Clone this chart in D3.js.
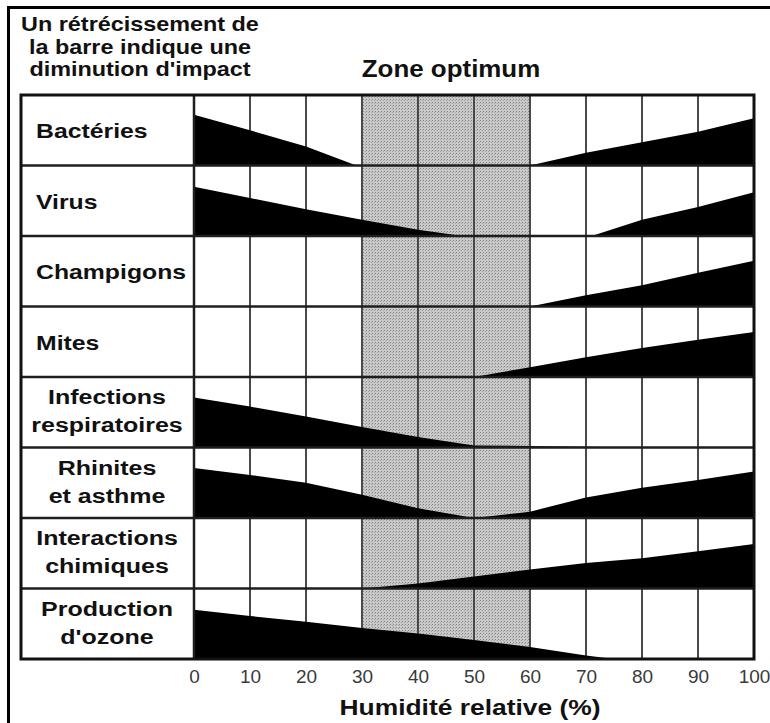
<!DOCTYPE html>
<html>
<head>
<meta charset="utf-8">
<script src="https://cdn.jsdelivr.net/npm/d3@7"></script>
<style>
  body { margin: 0; background: #fff; }
  svg { display: block; font-family: "Liberation Sans", Arial, sans-serif; }
</style>
</head>
<body>
<div class="container"></div>
<script>
const width = 770, height = 723;

// rows of the table (line breaks with \n)
const categories = [
  "Bactéries",
  "Virus",
  "Champigons",
  "Mites",
  "Infections\nrespiratoires",
  "Rhinites\net asthme",
  "Interactions\nchimiques",
  "Production\nd'ozone"
];

// impact bands: [humidité %, impact in % of the row height]
const bacteries = [
  [[0, 72], [10, 50], [20, 27], [29, 0]],
  [[60, 0], [70, 18], [80, 33], [90, 48], [100, 67]]
];
const virus = [
  [[0, 70], [10, 54], [20, 38], [30, 23], [40, 9], [48, 0]],
  [[71, 0], [80, 23], [90, 41], [100, 62]]
];
const champignons = [
  [[60, 0], [70, 16], [80, 30], [90, 48], [100, 65]]
];
const mites = [
  [[50, 0], [60, 14], [70, 28], [80, 41], [90, 53], [100, 64]]
];
const infections = [
  [[0, 71], [10, 58], [20, 44], [30, 29], [40, 15], [50, 3], [80, 0]]
];
const rhinites = [
  [[0, 71], [10, 61], [20, 50], [30, 33], [40, 14], [50, 0]],
  [[50, 0], [60, 9], [70, 29], [80, 43], [90, 54], [100, 66]]
];
const interactions = [
  [[30, 0], [40, 7], [50, 17], [60, 27], [70, 36], [80, 43], [90, 53], [100, 63]]
];
const ozone = [
  [[0, 70], [10, 61], [20, 53], [30, 44], [40, 36], [50, 27], [60, 17], [70, 5], [75, 0]]
];
const bands = [bacteries, virus, champignons, mites, infections, rhinites, interactions, ozone];

const humidityTicks = [0, 10, 20, 30, 40, 50, 60, 70, 80, 90, 100];
const optimumZone = [30, 60];

const noteLines = ["Un rétrécissement de", "la barre indique une", "diminution d'impact"];
const zoneTitle = "Zone optimum";
const axisTitle = "Humidité relative (%)";

const tableLeft = 21;

const svg = d3.select(".container")
  .append("svg")
  .attr("width", width)
  .attr("height", height);

svg.append("rect").attr("width", width).attr("height", height).attr("fill", "#fff");

const x = d3.scaleLinear().domain([0, 100]).range([194, 754]);
const row = d3.scaleBand().domain(categories).range([95, 659]);
const impact = d3.scaleLinear().domain([0, 100]).range([0, row.bandwidth()]);

// dotted grey of the optimum zone
const pat = svg.append("defs").append("pattern")
  .attr("id", "dots")
  .attr("patternUnits", "userSpaceOnUse")
  .attr("width", 3).attr("height", 3);
pat.append("rect").attr("width", 3).attr("height", 3).attr("fill", "#c9c9c9");
pat.append("rect").attr("width", 1).attr("height", 1).attr("fill", "#828282");
pat.append("rect").attr("x", 2).attr("y", 1).attr("width", 1).attr("height", 1).attr("fill", "#a2a2a2");

// stretched text helper (the original lettering is wide)
function label(g, tx, ty, str, size, sx, anchor, weight) {
  return g.append("text")
    .attr("transform", `translate(${tx},${ty}) scale(${sx},1)`)
    .attr("text-anchor", anchor)
    .attr("font-size", size)
    .attr("font-weight", weight || "bold")
    .attr("fill", "#111")
    .text(str);
}

// outer frame (left and top only, the rest is cut)
svg.append("path")
  .attr("d", `M8.5,${height} V7.5 H${width}`)
  .attr("fill", "none")
  .attr("stroke", "#000")
  .attr("stroke-width", 3);

// note top left
noteLines.forEach((t, i) => label(svg, 140, 31 + i * 22.5, t, 19.5, 1.2, "middle"));

label(svg, 451, 77, zoneTitle, 24, 1.08, "middle");

// optimum zone
svg.append("rect")
  .attr("x", x(optimumZone[0]))
  .attr("y", row.range()[0])
  .attr("width", x(optimumZone[1]) - x(optimumZone[0]))
  .attr("height", row.range()[1] - row.range()[0])
  .attr("fill", "url(#dots)");

// vertical grid
svg.append("g")
  .selectAll("line")
  .data(humidityTicks)
  .join("line")
  .attr("x1", d => x(d)).attr("x2", d => x(d))
  .attr("y1", row.range()[0]).attr("y2", row.range()[1])
  .attr("stroke", d => (d > optimumZone[0] && d < optimumZone[1]) ? "#222" : "#4a4a4a")
  .attr("stroke-width", d => (d > optimumZone[0] && d < optimumZone[1]) ? 1.5 : 2);

// black impact bars
const area = d3.area()
  .x(d => x(d[0]))
  .y0(0)
  .y1(d => -impact(d[1]));

svg.append("g")
  .selectAll("g")
  .data(categories)
  .join("g")
  .attr("transform", d => `translate(0,${row(d) + row.bandwidth()})`)
  .selectAll("path")
  .data((d, i) => bands[i])
  .join("path")
  .attr("d", area)
  .attr("fill", "#000");

// row separators
svg.append("g")
  .selectAll("line")
  .data(categories.slice(1))
  .join("line")
  .attr("x1", tableLeft).attr("x2", x(100))
  .attr("y1", d => row(d)).attr("y2", d => row(d))
  .attr("stroke", "#1e1e1e")
  .attr("stroke-width", 2.5);

// label column border + table border
svg.append("line")
  .attr("x1", x(0)).attr("x2", x(0))
  .attr("y1", row.range()[0]).attr("y2", row.range()[1])
  .attr("stroke", "#1e1e1e").attr("stroke-width", 2.5);

svg.append("rect")
  .attr("x", tableLeft)
  .attr("y", row.range()[0])
  .attr("width", x(100) - tableLeft)
  .attr("height", row.range()[1] - row.range()[0])
  .attr("fill", "none")
  .attr("stroke", "#111")
  .attr("stroke-width", 3);

// row labels
const labels = svg.append("g");
categories.forEach(c => {
  const cy = row(c) + row.bandwidth() / 2;
  const lines = c.split("\n");
  if (lines.length === 1) {
    label(labels, 36, cy + 8, lines[0], 20, 1.24, "start");
  } else {
    label(labels, 107, cy - 8, lines[0], 20, 1.25, "middle");
    label(labels, 107, cy + 20, lines[1], 20, 1.25, "middle");
  }
});

// humidity axis
const axis = svg.append("g")
  .attr("transform", `translate(0,${row.range()[1]})`)
  .call(d3.axisBottom(x).tickValues(humidityTicks).tickSize(0).tickPadding(11).tickFormat(d3.format("d")));
axis.select(".domain").remove();
axis.selectAll("text")
  .attr("font-family", "'Liberation Sans', Arial, sans-serif")
  .attr("font-size", 19)
  .attr("fill", "#3a3a3a");

label(svg, 470, 715, axisTitle, 22, 1.2, "middle");
</script>
</body>
</html>
